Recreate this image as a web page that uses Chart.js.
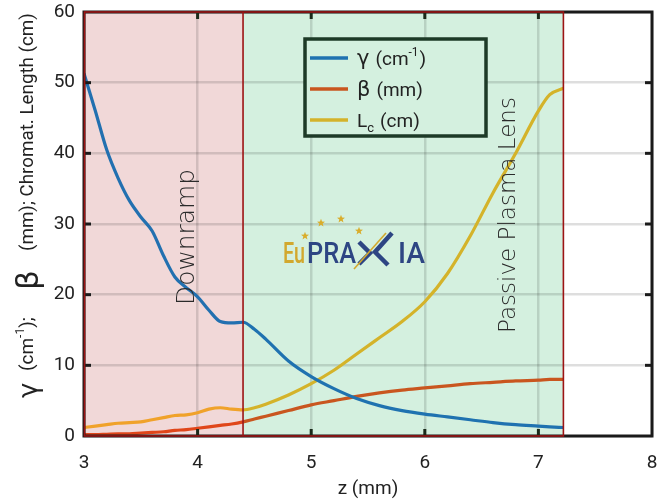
<!DOCTYPE html>
<html><head><meta charset="utf-8">
<script src="https://cdn.jsdelivr.net/npm/chart.js@4"></script>
<style>html,body{margin:0;padding:0;background:#fff}#wrap{width:659px;height:503px}</style>
</head><body><div id="wrap"><canvas id="c" width="659" height="503"></canvas></div>
<script>
// ---- data ----
const zValues     = [3.0, 3.1, 3.2, 3.3, 3.4, 3.5, 3.6, 3.7, 3.8, 3.9, 4.0, 4.1, 4.2, 4.3, 4.4, 4.5, 4.6, 4.8, 5.0, 5.2, 5.4, 5.6, 5.8, 6.0, 6.2, 6.4, 6.6, 6.8, 7.0, 7.1, 7.22];
const gammaValues = [51.3, 46.0, 40.5, 36.5, 33.3, 31.0, 29.0, 25.5, 22.5, 21.0, 19.7, 17.8, 16.2, 16.0, 16.1, 15.1, 13.7, 10.6, 8.4, 6.7, 5.3, 4.3, 3.6, 3.1, 2.7, 2.3, 1.9, 1.6, 1.4, 1.3, 1.2];
const betaValues  = [0.2, 0.2, 0.25, 0.3, 0.3, 0.4, 0.5, 0.6, 0.8, 0.9, 1.1, 1.3, 1.5, 1.7, 2.0, 2.4, 2.8, 3.6, 4.4, 5.0, 5.6, 6.1, 6.5, 6.8, 7.1, 7.4, 7.6, 7.8, 7.9, 8.0, 8.0];
const lcValues    = [1.2, 1.4, 1.6, 1.8, 1.9, 2.0, 2.3, 2.6, 2.9, 3.0, 3.3, 3.8, 4.0, 3.8, 3.7, 4.0, 4.5, 5.8, 7.4, 9.3, 11.6, 13.9, 16.2, 19.0, 23.0, 28.3, 34.4, 40.0, 46.0, 48.3, 49.2];
const seriesNames = ['γ', 'β', 'L'];
const seriesUnits = ['(cm', '(mm)', '(cm)'];
const xTickValues = [3, 4, 5, 6, 7, 8];
const yTickValues = [0, 10, 20, 30, 40, 50, 60];
const regionEdges = [3, 4.4, 7.22];
const regionNames = ['Downramp', 'Passive Plasma Lens'];
const xTitle = 'z (mm)';

// ---- styles ----
const lineColors = ['#1f72b0', '#c9561f', '#d4b32a'];
const lineColorsPink = ['#2270b0', '#e0461a', '#f0a22a'];
const FONT = 'Roboto, "Liberation Sans", sans-serif';

const pts = (ys) => zValues.map((z, i) => ({x: z, y: ys[i]}));
const mkSet = (ys, i) => ({
  label: seriesNames[i] + ' ' + seriesUnits[i],
  data: pts(ys),
  borderColor: lineColors[i],
  borderWidth: 3.2,
  pointRadius: 0,
  cubicInterpolationMode: 'monotone',
  segment: { borderColor: c => (c.p1.parsed.x <= regionEdges[1] + 1e-6 ? lineColorsPink[i] : lineColors[i]) }
});

const fitText = (ctx, txt, weight, family, len) => {
  ctx.font = weight + ' 20px ' + family;
  const w = ctx.measureText(txt).width;
  const fs = 20 * len / w;
  ctx.font = weight + ' ' + fs + 'px ' + family;
  return fs;
};

const decor = {
  id: 'decor',
  beforeDraw(chart) {
    const {ctx, chartArea: a, scales: {x}} = chart;
    ctx.save();
    ctx.fillStyle = '#fff';
    ctx.fillRect(0, 0, chart.width, chart.height);
    const x0 = x.getPixelForValue(regionEdges[0]);
    const x1 = x.getPixelForValue(regionEdges[1]);
    const x2 = x.getPixelForValue(regionEdges[2]);
    ctx.fillStyle = '#f1d8d8';
    ctx.fillRect(x0, a.top, x1 - x0, a.bottom - a.top);
    ctx.fillStyle = '#d4f0df';
    ctx.fillRect(x1, a.top, x2 - x1, a.bottom - a.top);
    ctx.restore();
  },
  afterDatasetsDraw(chart) {
    const {ctx, chartArea: a, scales: {x, y}} = chart;
    ctx.save();
    const x0 = x.getPixelForValue(regionEdges[0]);
    const x1 = x.getPixelForValue(regionEdges[1]);
    const x2 = x.getPixelForValue(regionEdges[2]);
    // black frame
    ctx.strokeStyle = '#1a1a1a';
    ctx.lineWidth = 3;
    ctx.strokeRect(a.left, a.top, a.right - a.left, a.bottom - a.top);
    // inward ticks
    xTickValues.slice(1, -1).forEach(v => {
      const px = x.getPixelForValue(v);
      ctx.strokeStyle = '#1a2a1a';
      ctx.beginPath(); ctx.moveTo(px, a.bottom); ctx.lineTo(px, a.bottom - 7); ctx.stroke();
      ctx.beginPath(); ctx.moveTo(px, a.top); ctx.lineTo(px, a.top + 7); ctx.stroke();
    });
    yTickValues.slice(1, -1).forEach(v => {
      const py = y.getPixelForValue(v);
      ctx.strokeStyle = '#1a1a1a';
      ctx.beginPath(); ctx.moveTo(a.left, py); ctx.lineTo(a.left + 7, py); ctx.stroke();
      ctx.beginPath(); ctx.moveTo(a.right, py); ctx.lineTo(a.right - 7, py); ctx.stroke();
    });
    // region outlines
    ctx.strokeStyle = '#9c1414';
    ctx.lineWidth = 1.6;
    ctx.strokeRect(x0 + 0.5, a.top, x2 - x0 - 0.5, a.bottom - a.top);
    ctx.beginPath(); ctx.moveTo(x1, a.top); ctx.lineTo(x1, a.bottom); ctx.stroke();

    // region labels (rotated)
    const rot = (txt, cx, cy, len) => {
      ctx.save();
      ctx.translate(cx, cy);
      ctx.rotate(-Math.PI / 2);
      fitText(ctx, txt, '300', '"DejaVu Sans", sans-serif', len);
      ctx.fillStyle = '#2a2a2a';
      ctx.textAlign = 'center';
      ctx.textBaseline = 'middle';
      ctx.fillText(txt, 0, 0);
      ctx.restore();
    };
    rot(regionNames[0], 188, 237, 136);
    rot(regionNames[1], 509, 215, 236);

    // EuPRAXIA logo
    ctx.save();
    ctx.textBaseline = 'alphabetic';
    const ly = 263;
    const part = (txt, left, width, color) => {
      ctx.save();
      ctx.font = '500 30px Roboto, sans-serif';
      const w = ctx.measureText(txt).width;
      ctx.translate(left, ly);
      ctx.scale(width / w, 1);
      ctx.fillStyle = color;
      ctx.fillText(txt, 0, 0);
      ctx.restore();
    };
    part('Eu', 283, 22, '#d2a82e');
    part('PRA', 307, 49, '#2d4583');
    part('IA', 398, 27, '#2d4583');
    const lx = 358;
    ctx.strokeStyle = '#2d4583'; ctx.lineWidth = 4.5;
    ctx.beginPath(); ctx.moveTo(lx + 1, ly - 21); ctx.lineTo(lx + 12, ly - 10); ctx.lineTo(lx + 1, ly + 1); ctx.stroke();
    ctx.beginPath(); ctx.moveTo(lx + 34, ly - 30); ctx.lineTo(lx + 17, ly - 11); ctx.lineTo(lx + 30, ly + 2); ctx.stroke();
    ctx.strokeStyle = '#d2a82e'; ctx.lineWidth = 1.6;
    ctx.beginPath(); ctx.moveTo(lx - 4, ly + 6); ctx.lineTo(lx + 28, ly - 30); ctx.stroke();
    const star = (sx, sy, r) => {
      ctx.beginPath();
      for (let k = 0; k < 10; k++) {
        const ang = -Math.PI / 2 + k * Math.PI / 5;
        const rr = k % 2 ? r * 0.42 : r;
        ctx.lineTo(sx + rr * Math.cos(ang), sy + rr * Math.sin(ang));
      }
      ctx.closePath(); ctx.fill();
    };
    ctx.fillStyle = '#d9ad2c';
    star(305, 236, 4.2); star(321, 223, 4.2); star(341, 219, 4.2); star(359, 231, 4.2);
    ctx.restore();

    // legend
    ctx.save();
    ctx.fillStyle = '#d4f0df';
    ctx.fillRect(305, 39, 181, 97);
    ctx.strokeStyle = '#1d3a27';
    ctx.lineWidth = 3.5;
    ctx.strokeRect(305, 39, 181, 97);
    const rows = [58, 89, 120];
    rows.forEach((ry, i) => {
      ctx.strokeStyle = lineColors[i];
      ctx.lineWidth = 3.5;
      ctx.beginPath(); ctx.moveTo(310, ry); ctx.lineTo(348, ry); ctx.stroke();
      ctx.fillStyle = '#222';
      ctx.textBaseline = 'alphabetic';
      let tx = 357; const by = ry + 7;
      ctx.font = '21px "DejaVu Sans", sans-serif';
      if (i === 2) ctx.font = '19px ' + FONT;
      ctx.fillText(seriesNames[i], tx, by); tx += ctx.measureText(seriesNames[i]).width;
      if (i === 2) {
        ctx.font = '13px ' + FONT;
        ctx.fillText('c', tx, by + 5); tx += ctx.measureText('c').width;
      }
      ctx.font = '19px ' + FONT;
      tx += 6;
      ctx.fillText(seriesUnits[i], tx, by); tx += ctx.measureText(seriesUnits[i]).width;
      if (i === 0) {
        ctx.font = '12px ' + FONT;
        ctx.fillText('-1', tx, by - 9); tx += ctx.measureText('-1').width;
        ctx.font = '19px ' + FONT;
        ctx.fillText(')', tx + 1, by);
      }
    });
    ctx.restore();

    // y title (rotated, mixed fonts)
    ctx.save();
    ctx.translate(28, 398);
    ctx.rotate(-Math.PI / 2);
    ctx.textBaseline = 'middle';
    ctx.fillStyle = '#222';
    ctx.font = '26px "DejaVu Sans", sans-serif';
    ctx.fillText('γ', 0, 2);
    ctx.font = '19px ' + FONT;
    let px = 27;
    ctx.fillText('(cm', px, 0); px += ctx.measureText('(cm').width;
    ctx.font = '12px ' + FONT;
    ctx.fillText('-1', px, -7); px += ctx.measureText('-1').width;
    ctx.font = '19px ' + FONT;
    ctx.fillText(');', px, 0);
    ctx.font = '31px "DejaVu Sans", sans-serif';
    ctx.fillText('β', 108, 2);
    fitText(ctx, '(mm); Chromat. Length (cm)', '', FONT, 238);
    ctx.fillText('(mm); Chromat. Length (cm)', 147, 0);
    ctx.restore();

    // x title
    ctx.save();
    ctx.font = '19px ' + FONT;
    ctx.fillStyle = '#222';
    ctx.textAlign = 'center';
    ctx.textBaseline = 'middle';
    ctx.fillText(xTitle, (a.left + a.right) / 2, 489);
    ctx.restore();
    ctx.restore();
  }
};

new Chart(document.getElementById('c'), {
  type: 'line',
  data: { datasets: [mkSet(gammaValues, 0), mkSet(betaValues, 1), mkSet(lcValues, 2)] },
  options: {
    responsive: false,
    devicePixelRatio: 1,
    animation: false,
    layout: { padding: { top: 12, right: 7, left: 0, bottom: 0 } },
    plugins: { legend: { display: false }, tooltip: { enabled: false } },
    scales: {
      x: {
        type: 'linear', min: 3, max: 8,
        afterFit: s => { s.height = 67; s.paddingLeft = 0; s.paddingRight = 0; },
        afterBuildTicks: s => { s.ticks = xTickValues.map(v => ({value: v})); },
        grid: { color: 'rgba(0,0,0,0.13)', lineWidth: 2.5, drawTicks: false },
        border: { display: false },
        ticks: { padding: 16, color: '#222', font: { size: 19, family: FONT }, maxRotation: 0 }
      },
      y: {
        min: 0, max: 60,
        afterFit: s => { s.width = 84; s.paddingTop = 0; s.paddingBottom = 0; },
        afterBuildTicks: s => { s.ticks = yTickValues.map(v => ({value: v})); },
        grid: { color: 'rgba(0,0,0,0.13)', lineWidth: 2.5, drawTicks: false },
        border: { display: false },
        ticks: { padding: 9, color: '#222', font: { size: 19, family: FONT } }
      }
    }
  },
  plugins: [decor]
});
</script>
</body></html>
